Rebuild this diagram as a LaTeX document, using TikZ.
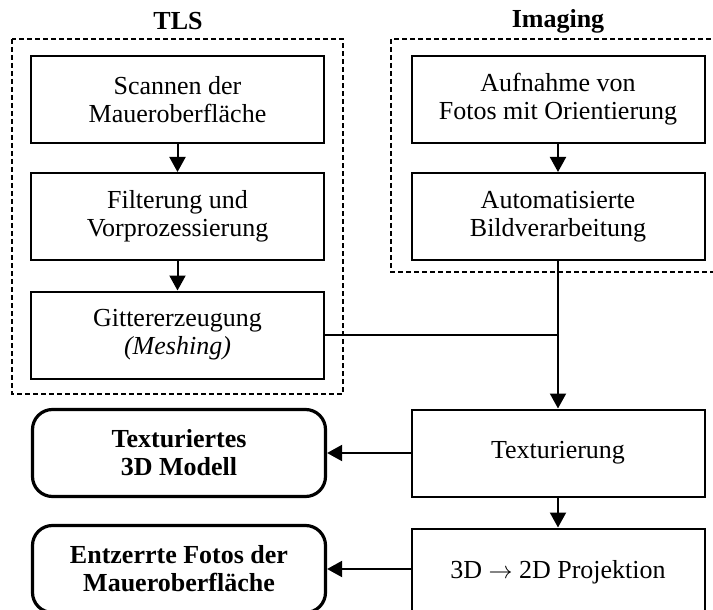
\documentclass[tikz,border=0pt]{standalone}
\usepackage{fontspec}
\setmainfont{Liberation Serif}
\usetikzlibrary{arrows.meta}

\newcommand{\boxfont}{\fontsize{13}{14}\selectfont}

\tikzset{
  stage/.style={draw, line width=1pt, minimum width=146.5pt, minimum height=43.5pt,
                align=center, inner sep=2pt, font=\boxfont},
  result/.style={stage, rounded corners=10pt, line width=1.6pt, font=\boxfont\bfseries},
  title/.style={font=\boxfont\bfseries},
  group/.style={draw, line width=0.6pt, dash pattern=on 2.5pt off 1.5pt},
  flow/.style={line width=1pt, -{Triangle[length=7.5pt,width=8pt]}}
}

\begin{document}
\begin{tikzpicture}[x=0.5pt, y=-0.5pt]
       \useasboundingbox (0,0) rectangle (713,610);
       \clip (0,0) rectangle (713,610);

      % laser scanning
       \draw [group] (12, 39) rectangle (343, 394);
       \node[title] (tls) at (178, 21) {TLS};

       \node[stage] (scan) at (177.5, 99.5) {Scannen der\\Maueroberfläche};
       \node[stage] (filter) at (177.5, 216.5) {Filterung und\\Vorprozessierung};
       \node[stage] (mesh) at (177.5, 335) {Gittererzeugung\\\textit{(Meshing)}};

       \draw [flow] (scan) -- (filter);
       \draw [flow] (filter) -- (mesh);

      % imaging
       \draw [group] (391, 39) rectangle (722, 272);
       \node[title] (img) at (558, 21) {Imaging};

       \node[stage] (photo) at (558, 99.5) {Aufnahme von\\Fotos mit Orientierung};
       \node[stage] (proc) at (558, 216.5) {Automatisierte\\Bildverarbeitung};

       \draw [flow] (photo) -- (proc);

      % texturing
       \node[stage] (tex) at (558, 453) {Texturierung};
       \node[stage] (proj) at (558, 572) {3D $\rightarrow$ 2D Projektion};

       \coordinate (join) at (proc.south |- mesh.east);
       \draw [line width=1pt] (mesh.east) -- (join);
       \draw [flow] (proc) -- (tex);
       \draw [flow] (tex) -- (proj);

      % results
       \node[result] (model) at (179, 453) {Texturiertes\\3D Modell};
       \node[result] (ortho) at (179, 569) {Entzerrte Fotos der\\Maueroberfläche};

       \draw [flow] (tex.west |- model.east) -- (model.east);
       \draw [flow] (proj.west |- ortho.east) -- (ortho.east);
    \end{tikzpicture}
\end{document}
